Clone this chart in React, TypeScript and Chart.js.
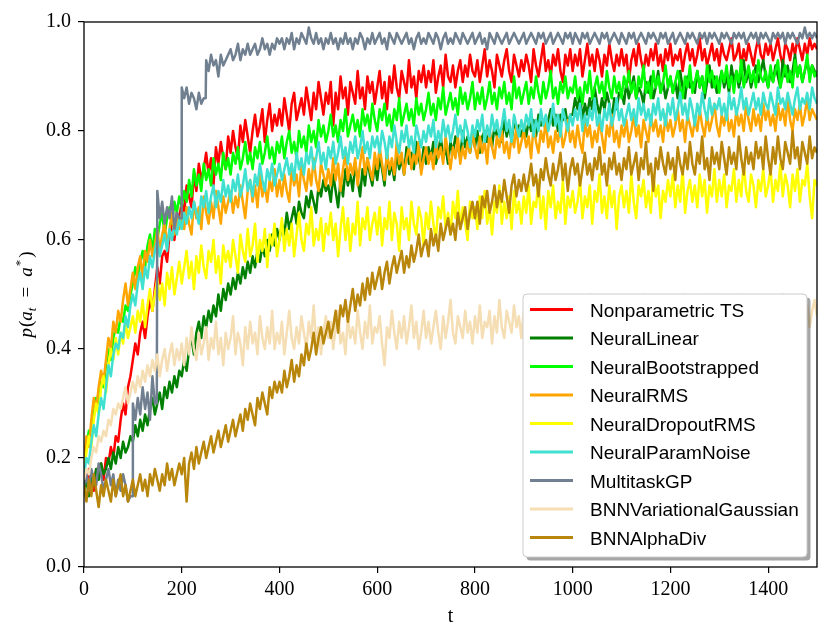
import React, { useEffect, useRef } from "react";
import { Chart, registerables } from "chart.js";

Chart.register(...registerables);

// ---------------- data ----------------
const SERIES_NAMES = [
  "Nonparametric TS",
  "NeuralLinear",
  "NeuralBootstrapped",
  "NeuralRMS",
  "NeuralDropoutRMS",
  "NeuralParamNoise",
  "MultitaskGP",
  "BNNVariationalGaussian",
  "BNNAlphaDiv",
];
const SERIES_COLORS = [
  "#ff0000",
  "#008000",
  "#00ff00",
  "#ffa500",
  "#ffff00",
  "#40e0d0",
  "#708090",
  "#f5deb3",
  "#b8860b",
];

const X_TICKS = [0, 200, 400, 600, 800, 1000, 1200, 1400];
const Y_TICKS = [0, 0.2, 0.4, 0.6, 0.8, 1.0];
const X_MIN = 0;
const X_MAX = 1500;
const X_TITLE = "t";

// time grid t = 0, 5, ..., 1500
const T = Array.from({ length: 301 }, (_, i) => i * 5);

const NONPARAM_TS = [
  0.17, 0.15, 0.18, 0.16, 0.14, 0.18, 0.17, 0.19, 0.16, 0.20, 0.19, 0.22, 0.20, 0.24, 0.23, 0.27, 0.30, 0.28, 0.33, 0.35,
  0.38, 0.41, 0.39, 0.43, 0.45, 0.42, 0.46, 0.49, 0.47, 0.51, 0.55, 0.52, 0.57, 0.58, 0.56, 0.61, 0.63, 0.60, 0.65, 0.64,
  0.67, 0.65, 0.70, 0.68, 0.66, 0.72, 0.69, 0.74, 0.71, 0.73, 0.76, 0.72, 0.75, 0.70, 0.77, 0.74, 0.78, 0.75, 0.73, 0.79,
  0.76, 0.80, 0.77, 0.75, 0.81, 0.78, 0.82, 0.79, 0.76, 0.80, 0.83, 0.79, 0.81, 0.84, 0.78, 0.82, 0.85, 0.80, 0.83, 0.81,
  0.84, 0.81, 0.86, 0.83, 0.80, 0.85, 0.87, 0.82, 0.84, 0.86, 0.83, 0.88, 0.85, 0.82, 0.87, 0.84, 0.89, 0.86, 0.83, 0.87,
  0.85, 0.89, 0.81, 0.87, 0.84, 0.90, 0.86, 0.88, 0.83, 0.89, 0.87, 0.85, 0.91, 0.86, 0.88, 0.84, 0.90, 0.87, 0.89, 0.85,
  0.88, 0.91, 0.86, 0.89, 0.84, 0.90, 0.87, 0.92, 0.88, 0.86, 0.91, 0.89, 0.87, 0.93, 0.88, 0.90, 0.86, 0.91, 0.89, 0.92,
  0.88, 0.91, 0.89, 0.93, 0.87, 0.90, 0.92, 0.88, 0.94, 0.90, 0.89, 0.92, 0.88, 0.91, 0.93, 0.89, 0.92, 0.90, 0.94, 0.91,
  0.90, 0.93, 0.89, 0.92, 0.95, 0.90, 0.93, 0.91, 0.88, 0.94, 0.92, 0.90, 0.93, 0.95, 0.91, 0.89, 0.94, 0.92, 0.90, 0.93,
  0.91, 0.94, 0.92, 0.89, 0.95, 0.92, 0.90, 0.93, 0.96, 0.91, 0.93, 0.90, 0.94, 0.92, 0.95, 0.91, 0.89, 0.94, 0.92, 0.95,
  0.91, 0.94, 0.92, 0.95, 0.90, 0.93, 0.96, 0.92, 0.94, 0.91, 0.95, 0.93, 0.90, 0.94, 0.92, 0.96, 0.93, 0.91, 0.94, 0.92,
  0.95, 0.92, 0.94, 0.89, 0.93, 0.95, 0.92, 0.96, 0.93, 0.91, 0.94, 0.92, 0.95, 0.93, 0.96, 0.92, 0.94, 0.91, 0.95, 0.93,
  0.96, 0.92, 0.94, 0.93, 0.95, 0.91, 0.94, 0.96, 0.93, 0.95, 0.92, 0.94, 0.97, 0.93, 0.95, 0.92, 0.94, 0.96, 0.93, 0.95,
  0.92, 0.96, 0.94, 0.93, 0.95, 0.97, 0.93, 0.94, 0.96, 0.92, 0.95, 0.93, 0.96, 0.94, 0.92, 0.95, 0.97, 0.94, 0.93, 0.96,
  0.94, 0.96, 0.93, 0.95, 0.97, 0.94, 0.92, 0.96, 0.95, 0.93, 0.96, 0.94, 0.97, 0.95, 0.93, 0.96, 0.94, 0.97, 0.95, 0.96,
  0.95,
];

const NEURAL_LINEAR = [
  0.14, 0.16, 0.13, 0.17, 0.15, 0.18, 0.16, 0.19, 0.17, 0.18, 0.20, 0.18, 0.21, 0.19, 0.22, 0.20, 0.23, 0.21, 0.22, 0.24,
  0.23, 0.26, 0.24, 0.27, 0.25, 0.28, 0.26, 0.29, 0.31, 0.28, 0.30, 0.32, 0.29, 0.33, 0.31, 0.34, 0.32, 0.35, 0.33, 0.36,
  0.35, 0.38, 0.36, 0.40, 0.42, 0.39, 0.43, 0.45, 0.42, 0.46, 0.44, 0.47, 0.45, 0.48, 0.46, 0.50, 0.47, 0.51, 0.49, 0.52,
  0.50, 0.53, 0.51, 0.54, 0.52, 0.55, 0.53, 0.56, 0.54, 0.57, 0.55, 0.58, 0.56, 0.59, 0.57, 0.60, 0.58, 0.61, 0.59, 0.62,
  0.60, 0.63, 0.61, 0.65, 0.62, 0.64, 0.66, 0.63, 0.67, 0.65, 0.64, 0.68, 0.66, 0.69, 0.67, 0.65, 0.70, 0.68, 0.71, 0.69,
  0.70, 0.67, 0.72, 0.69, 0.66, 0.71, 0.68, 0.73, 0.70, 0.72, 0.69, 0.74, 0.71, 0.68, 0.73, 0.70, 0.75, 0.72, 0.70, 0.74,
  0.71, 0.75, 0.73, 0.70, 0.76, 0.72, 0.74, 0.71, 0.76, 0.73, 0.75, 0.72, 0.77, 0.74, 0.76, 0.73, 0.78, 0.75, 0.73, 0.77,
  0.74, 0.77, 0.75, 0.78, 0.74, 0.76, 0.79, 0.75, 0.77, 0.74, 0.78, 0.76, 0.79, 0.77, 0.75, 0.80, 0.77, 0.79, 0.76, 0.80,
  0.77, 0.80, 0.76, 0.79, 0.80, 0.78, 0.80, 0.77, 0.81, 0.79, 0.80, 0.78, 0.82, 0.79, 0.81, 0.78, 0.82, 0.80, 0.81, 0.79,
  0.81, 0.79, 0.82, 0.80, 0.82, 0.79, 0.83, 0.81, 0.82, 0.80, 0.82, 0.84, 0.81, 0.83, 0.80, 0.83, 0.82, 0.84, 0.81, 0.83,
  0.83, 0.86, 0.84, 0.87, 0.82, 0.85, 0.83, 0.86, 0.84, 0.88, 0.85, 0.83, 0.86, 0.84, 0.87, 0.85, 0.82, 0.86, 0.84, 0.87,
  0.87, 0.85, 0.89, 0.86, 0.88, 0.90, 0.86, 0.88, 0.87, 0.85, 0.89, 0.87, 0.90, 0.86, 0.88, 0.91, 0.87, 0.89, 0.86, 0.88,
  0.90, 0.87, 0.89, 0.86, 0.91, 0.88, 0.86, 0.90, 0.88, 0.89, 0.87, 0.91, 0.88, 0.90, 0.86, 0.89, 0.92, 0.88, 0.90, 0.87,
  0.89, 0.91, 0.88, 0.90, 0.87, 0.92, 0.89, 0.91, 0.88, 0.90, 0.93, 0.89, 0.91, 0.88, 0.90, 0.92, 0.89, 0.91, 0.93, 0.90,
  0.88, 0.91, 0.89, 0.92, 0.90, 0.88, 0.93, 0.90, 0.92, 0.89, 0.91, 0.94, 0.90, 0.92, 0.89, 0.91, 0.93, 0.90, 0.92, 0.91,
  0.90,
];

const NEURAL_BOOTSTRAPPED = [
  0.19, 0.22, 0.25, 0.24, 0.28, 0.31, 0.30, 0.34, 0.33, 0.37, 0.40, 0.38, 0.42, 0.44, 0.43, 0.46, 0.45, 0.48, 0.47, 0.50,
  0.52, 0.55, 0.53, 0.56, 0.58, 0.55, 0.59, 0.61, 0.58, 0.62, 0.60, 0.63, 0.65, 0.61, 0.64, 0.66, 0.63, 0.67, 0.65, 0.68,
  0.66, 0.69, 0.67, 0.71, 0.68, 0.73, 0.70, 0.72, 0.69, 0.74, 0.71, 0.73, 0.70, 0.75, 0.72, 0.74, 0.71, 0.76, 0.73, 0.75,
  0.72, 0.76, 0.74, 0.77, 0.73, 0.75, 0.78, 0.74, 0.76, 0.73, 0.77, 0.75, 0.78, 0.74, 0.76, 0.79, 0.75, 0.77, 0.74, 0.78,
  0.76, 0.79, 0.75, 0.78, 0.80, 0.76, 0.78, 0.75, 0.80, 0.77, 0.79, 0.76, 0.81, 0.78, 0.80, 0.77, 0.82, 0.79, 0.81, 0.78,
  0.80, 0.83, 0.79, 0.81, 0.78, 0.82, 0.80, 0.84, 0.79, 0.81, 0.83, 0.80, 0.82, 0.79, 0.84, 0.81, 0.83, 0.80, 0.85, 0.82,
  0.80, 0.84, 0.82, 0.85, 0.81, 0.83, 0.80, 0.84, 0.82, 0.86, 0.81, 0.83, 0.85, 0.82, 0.84, 0.81, 0.86, 0.83, 0.85, 0.82,
  0.84, 0.87, 0.83, 0.85, 0.82, 0.86, 0.84, 0.88, 0.83, 0.85, 0.87, 0.84, 0.86, 0.83, 0.88, 0.85, 0.87, 0.84, 0.86, 0.89,
  0.84, 0.87, 0.85, 0.88, 0.84, 0.86, 0.89, 0.85, 0.87, 0.84, 0.88, 0.86, 0.89, 0.85, 0.87, 0.84, 0.90, 0.86, 0.88, 0.85,
  0.87, 0.89, 0.85, 0.88, 0.86, 0.90, 0.87, 0.85, 0.89, 0.86, 0.88, 0.91, 0.86, 0.88, 0.85, 0.89, 0.87, 0.90, 0.86, 0.88,
  0.87, 0.90, 0.86, 0.88, 0.85, 0.89, 0.87, 0.91, 0.86, 0.88, 0.90, 0.87, 0.89, 0.86, 0.91, 0.88, 0.86, 0.90, 0.87, 0.89,
  0.86, 0.90, 0.88, 0.91, 0.87, 0.89, 0.86, 0.90, 0.88, 0.92, 0.87, 0.89, 0.86, 0.91, 0.88, 0.90, 0.87, 0.89, 0.92, 0.88,
  0.90, 0.87, 0.89, 0.91, 0.88, 0.86, 0.90, 0.88, 0.92, 0.87, 0.89, 0.91, 0.88, 0.90, 0.87, 0.92, 0.89, 0.91, 0.88, 0.90,
  0.87, 0.91, 0.89, 0.92, 0.88, 0.90, 0.87, 0.91, 0.89, 0.93, 0.88, 0.90, 0.92, 0.89, 0.91, 0.88, 0.93, 0.90, 0.89, 0.91,
  0.88, 0.92, 0.89, 0.91, 0.93, 0.88, 0.90, 0.92, 0.89, 0.91, 0.88, 0.93, 0.90, 0.92, 0.89, 0.91, 0.94, 0.89, 0.92, 0.90,
  0.91,
];

const NEURAL_RMS = [
  0.20, 0.24, 0.22, 0.27, 0.31, 0.29, 0.33, 0.36, 0.34, 0.38, 0.42, 0.40, 0.45, 0.43, 0.47, 0.45, 0.49, 0.52, 0.48, 0.51,
  0.54, 0.51, 0.55, 0.57, 0.53, 0.58, 0.56, 0.60, 0.57, 0.59, 0.62, 0.58, 0.61, 0.63, 0.59, 0.62, 0.65, 0.61, 0.64, 0.62,
  0.65, 0.62, 0.66, 0.63, 0.61, 0.67, 0.64, 0.66, 0.62, 0.68, 0.65, 0.63, 0.67, 0.64, 0.69, 0.66, 0.63, 0.68, 0.65, 0.67,
  0.69, 0.65, 0.68, 0.66, 0.70, 0.67, 0.64, 0.69, 0.71, 0.67, 0.70, 0.66, 0.72, 0.68, 0.70, 0.67, 0.71, 0.69, 0.73, 0.68,
  0.71, 0.68, 0.72, 0.69, 0.67, 0.73, 0.70, 0.72, 0.68, 0.74, 0.71, 0.69, 0.73, 0.70, 0.75, 0.71, 0.69, 0.74, 0.72, 0.70,
  0.73, 0.70, 0.75, 0.71, 0.74, 0.69, 0.73, 0.76, 0.71, 0.74, 0.72, 0.75, 0.70, 0.74, 0.77, 0.72, 0.75, 0.73, 0.71, 0.76,
  0.73, 0.77, 0.74, 0.71, 0.76, 0.73, 0.75, 0.72, 0.78, 0.74, 0.76, 0.72, 0.75, 0.77, 0.73, 0.76, 0.74, 0.78, 0.72, 0.75,
  0.77, 0.74, 0.76, 0.73, 0.78, 0.75, 0.77, 0.74, 0.79, 0.76, 0.73, 0.77, 0.75, 0.79, 0.74, 0.77, 0.75, 0.78, 0.76, 0.80,
  0.77, 0.75, 0.79, 0.76, 0.78, 0.74, 0.80, 0.77, 0.75, 0.79, 0.77, 0.80, 0.76, 0.78, 0.75, 0.79, 0.77, 0.81, 0.76, 0.78,
  0.80, 0.77, 0.79, 0.75, 0.81, 0.78, 0.76, 0.80, 0.78, 0.82, 0.77, 0.79, 0.76, 0.80, 0.78, 0.81, 0.77, 0.79, 0.82, 0.78,
  0.80, 0.77, 0.81, 0.78, 0.76, 0.82, 0.79, 0.81, 0.77, 0.80, 0.78, 0.82, 0.79, 0.76, 0.81, 0.79, 0.83, 0.78, 0.80, 0.77,
  0.81, 0.79, 0.82, 0.78, 0.80, 0.83, 0.79, 0.81, 0.77, 0.82, 0.80, 0.78, 0.83, 0.80, 0.82, 0.79, 0.81, 0.78, 0.83, 0.80,
  0.82, 0.79, 0.81, 0.84, 0.80, 0.82, 0.78, 0.83, 0.81, 0.79, 0.82, 0.80, 0.84, 0.81, 0.79, 0.83, 0.80, 0.82, 0.85, 0.81,
  0.79, 0.83, 0.81, 0.84, 0.80, 0.82, 0.79, 0.84, 0.81, 0.83, 0.80, 0.85, 0.82, 0.80, 0.84, 0.81, 0.83, 0.80, 0.85, 0.82,
  0.84, 0.81, 0.83, 0.80, 0.85, 0.82, 0.84, 0.81, 0.86, 0.82, 0.80, 0.84, 0.82, 0.85, 0.81, 0.83, 0.86, 0.82, 0.84, 0.83,
  0.82,
];

const NEURAL_DROPOUT_RMS = [
  0.18, 0.21, 0.24, 0.22, 0.27, 0.30, 0.28, 0.33, 0.35, 0.32, 0.37, 0.40, 0.38, 0.42, 0.39, 0.43, 0.41, 0.45, 0.42, 0.44,
  0.46, 0.43, 0.47, 0.45, 0.49, 0.44, 0.48, 0.51, 0.47, 0.50, 0.53, 0.49, 0.52, 0.48, 0.54, 0.51, 0.55, 0.50, 0.53, 0.56,
  0.52, 0.55, 0.58, 0.53, 0.56, 0.51, 0.57, 0.54, 0.59, 0.55, 0.53, 0.58, 0.56, 0.60, 0.54, 0.57, 0.52, 0.59, 0.56, 0.58,
  0.55, 0.60, 0.57, 0.54, 0.61, 0.58, 0.56, 0.62, 0.57, 0.59, 0.63, 0.56, 0.60, 0.58, 0.62, 0.55, 0.61, 0.59, 0.63, 0.57,
  0.60, 0.64, 0.58, 0.62, 0.59, 0.63, 0.57, 0.61, 0.65, 0.60, 0.58, 0.63, 0.61, 0.66, 0.59, 0.62, 0.60, 0.64, 0.58, 0.63,
  0.61, 0.65, 0.60, 0.63, 0.57, 0.62, 0.66, 0.60, 0.64, 0.58, 0.63, 0.61, 0.67, 0.59, 0.64, 0.62, 0.66, 0.60, 0.63, 0.65,
  0.61, 0.66, 0.59, 0.64, 0.62, 0.67, 0.60, 0.65, 0.63, 0.58, 0.66, 0.62, 0.64, 0.60, 0.67, 0.63, 0.61, 0.66, 0.64, 0.59,
  0.65, 0.62, 0.67, 0.63, 0.60, 0.66, 0.64, 0.68, 0.62, 0.65, 0.61, 0.67, 0.64, 0.69, 0.62, 0.66, 0.63, 0.60, 0.67, 0.64,
  0.66, 0.62, 0.68, 0.64, 0.69, 0.63, 0.66, 0.61, 0.67, 0.65, 0.70, 0.63, 0.67, 0.64, 0.68, 0.62, 0.69, 0.65, 0.67, 0.63,
  0.68, 0.65, 0.70, 0.63, 0.67, 0.66, 0.71, 0.64, 0.68, 0.62, 0.69, 0.66, 0.70, 0.64, 0.67, 0.65, 0.71, 0.63, 0.68, 0.66,
  0.69, 0.65, 0.67, 0.71, 0.64, 0.68, 0.66, 0.70, 0.63, 0.69, 0.67, 0.72, 0.65, 0.68, 0.64, 0.70, 0.66, 0.69, 0.62, 0.68,
  0.70, 0.66, 0.69, 0.65, 0.72, 0.67, 0.64, 0.70, 0.68, 0.71, 0.66, 0.69, 0.65, 0.72, 0.68, 0.70, 0.64, 0.69, 0.67, 0.71,
  0.68, 0.72, 0.66, 0.70, 0.67, 0.73, 0.65, 0.69, 0.71, 0.67, 0.70, 0.66, 0.72, 0.68, 0.71, 0.65, 0.70, 0.68, 0.73, 0.67,
  0.71, 0.68, 0.72, 0.66, 0.70, 0.69, 0.73, 0.67, 0.71, 0.68, 0.74, 0.69, 0.67, 0.72, 0.70, 0.66, 0.71, 0.69, 0.73, 0.68,
  0.70, 0.73, 0.67, 0.71, 0.69, 0.74, 0.68, 0.72, 0.70, 0.66, 0.72, 0.69, 0.73, 0.67, 0.71, 0.70, 0.74, 0.68, 0.64, 0.71,
  0.70,
];

const NEURAL_PARAM_NOISE = [
  0.17, 0.20, 0.19, 0.23, 0.26, 0.24, 0.28, 0.31, 0.29, 0.33, 0.37, 0.35, 0.39, 0.41, 0.40, 0.43, 0.42, 0.46, 0.44, 0.48,
  0.50, 0.48, 0.52, 0.54, 0.51, 0.55, 0.53, 0.57, 0.55, 0.58, 0.60, 0.57, 0.59, 0.61, 0.58, 0.62, 0.60, 0.63, 0.61, 0.64,
  0.62, 0.65, 0.63, 0.66, 0.64, 0.67, 0.65, 0.63, 0.68, 0.66, 0.69, 0.65, 0.68, 0.70, 0.66, 0.69, 0.67, 0.71, 0.68, 0.70,
  0.67, 0.71, 0.69, 0.72, 0.68, 0.70, 0.73, 0.69, 0.71, 0.68, 0.72, 0.70, 0.74, 0.71, 0.69, 0.73, 0.71, 0.74, 0.70, 0.72,
  0.74, 0.71, 0.73, 0.75, 0.72, 0.74, 0.71, 0.76, 0.73, 0.75, 0.72, 0.76, 0.74, 0.77, 0.73, 0.75, 0.78, 0.74, 0.76, 0.73,
  0.77, 0.75, 0.78, 0.74, 0.76, 0.79, 0.75, 0.77, 0.74, 0.78, 0.76, 0.79, 0.75, 0.77, 0.80, 0.76, 0.78, 0.75, 0.79, 0.77,
  0.79, 0.76, 0.80, 0.78, 0.75, 0.79, 0.77, 0.81, 0.78, 0.76, 0.80, 0.78, 0.81, 0.77, 0.79, 0.76, 0.81, 0.79, 0.77, 0.80,
  0.78, 0.81, 0.79, 0.82, 0.77, 0.80, 0.78, 0.82, 0.79, 0.81, 0.78, 0.80, 0.83, 0.79, 0.81, 0.78, 0.82, 0.80, 0.77, 0.81,
  0.79, 0.82, 0.80, 0.83, 0.78, 0.81, 0.79, 0.83, 0.80, 0.82, 0.79, 0.81, 0.84, 0.80, 0.82, 0.78, 0.83, 0.81, 0.79, 0.82,
  0.80, 0.83, 0.81, 0.84, 0.79, 0.82, 0.80, 0.84, 0.81, 0.83, 0.80, 0.82, 0.85, 0.81, 0.83, 0.79, 0.84, 0.82, 0.80, 0.83,
  0.81, 0.84, 0.82, 0.85, 0.80, 0.83, 0.81, 0.84, 0.82, 0.86, 0.81, 0.83, 0.80, 0.84, 0.82, 0.85, 0.81, 0.83, 0.86, 0.82,
  0.84, 0.81, 0.83, 0.85, 0.82, 0.84, 0.81, 0.86, 0.83, 0.85, 0.82, 0.84, 0.81, 0.85, 0.83, 0.86, 0.82, 0.84, 0.81, 0.85,
  0.83, 0.86, 0.82, 0.84, 0.87, 0.83, 0.85, 0.82, 0.86, 0.84, 0.81, 0.85, 0.83, 0.87, 0.84, 0.82, 0.86, 0.83, 0.85, 0.84,
  0.86, 0.83, 0.85, 0.82, 0.87, 0.84, 0.86, 0.83, 0.85, 0.88, 0.84, 0.86, 0.83, 0.85, 0.87, 0.84, 0.86, 0.83, 0.87, 0.85,
  0.84, 0.87, 0.85, 0.83, 0.88, 0.85, 0.86, 0.84, 0.87, 0.85, 0.83, 0.86, 0.88, 0.84, 0.86, 0.85, 0.87, 0.84, 0.88, 0.86,
  0.85,
];

const MULTITASK_GP = [
  0.15, 0.17, 0.14, 0.18, 0.16, 0.15, 0.19, 0.17, 0.14, 0.16, 0.18, 0.15, 0.17, 0.13, 0.16, 0.14, 0.17, 0.15, 0.12, 0.13,
  0.30, 0.27, 0.31, 0.28, 0.33, 0.29, 0.32, 0.27, 0.35, 0.30, 0.69, 0.64, 0.67, 0.63, 0.66, 0.64, 0.68, 0.62, 0.65, 0.64,
  0.88, 0.86, 0.88, 0.85, 0.87, 0.86, 0.84, 0.87, 0.85, 0.86, 0.93, 0.91, 0.94, 0.92, 0.93, 0.90, 0.94, 0.92, 0.93, 0.94,
  0.95, 0.93, 0.94, 0.96, 0.93, 0.95, 0.94, 0.96, 0.94, 0.95, 0.96, 0.94, 0.95, 0.97, 0.95, 0.96, 0.94, 0.96, 0.95, 0.97,
  0.96, 0.97, 0.95, 0.97, 0.96, 0.98, 0.95, 0.97, 0.96, 0.98, 0.97, 0.96, 0.99, 0.97, 0.96, 0.98, 0.96, 0.97, 0.95, 0.97,
  0.96, 0.98, 0.96, 0.97, 0.95, 0.97, 0.96, 0.98, 0.96, 0.97, 0.95, 0.97, 0.96, 0.98, 0.97, 0.95, 0.97, 0.96, 0.98, 0.96,
  0.97, 0.98, 0.96, 0.97, 0.95, 0.98, 0.97, 0.96, 0.98, 0.97, 0.96, 0.97, 0.98, 0.96, 0.97, 0.95, 0.97, 0.98, 0.96, 0.97,
  0.96, 0.98, 0.97, 0.96, 0.98, 0.97, 0.95, 0.97, 0.98, 0.96, 0.97, 0.96, 0.98, 0.97, 0.96, 0.98, 0.97, 0.96, 0.97, 0.98,
  0.96, 0.97, 0.98, 0.96, 0.97, 0.95, 0.98, 0.97, 0.96, 0.98, 0.97, 0.96, 0.97, 0.98, 0.96, 0.97, 0.98, 0.97, 0.96, 0.97,
  0.98, 0.96, 0.97, 0.98, 0.97, 0.96, 0.98, 0.97, 0.98, 0.96, 0.97, 0.98, 0.96, 0.97, 0.98, 0.97, 0.96, 0.98, 0.97, 0.98,
  0.96, 0.98, 0.97, 0.96, 0.98, 0.97, 0.98, 0.96, 0.97, 0.98, 0.97, 0.96, 0.98, 0.97, 0.98, 0.96, 0.97, 0.98, 0.97, 0.96,
  0.98, 0.97, 0.96, 0.98, 0.97, 0.98, 0.96, 0.97, 0.98, 0.97, 0.96, 0.98, 0.97, 0.98, 0.97, 0.96, 0.98, 0.97, 0.98, 0.96,
  0.97, 0.98, 0.96, 0.97, 0.98, 0.97, 0.96, 0.98, 0.97, 0.98, 0.97, 0.96, 0.98, 0.97, 0.98, 0.96, 0.98, 0.97, 0.98, 0.97,
  0.96, 0.98, 0.97, 0.98, 0.97, 0.96, 0.98, 0.97, 0.98, 0.97, 0.98, 0.96, 0.97, 0.98, 0.97, 0.98, 0.96, 0.98, 0.97, 0.98,
  0.97, 0.96, 0.98, 0.97, 0.98, 0.97, 0.98, 0.96, 0.98, 0.97, 0.98, 0.97, 0.96, 0.98, 0.97, 0.99, 0.97, 0.98, 0.97, 0.98,
  0.97,
];
// extra MultitaskGP samples just before its step changes
const GP_STEP_T = [99, 149, 199, 249];
const GP_STEP_P = [0.13, 0.30, 0.64, 0.86];

const BNN_VAR_GAUSSIAN = [
  0.16, 0.18, 0.17, 0.20, 0.22, 0.21, 0.24, 0.23, 0.25, 0.24, 0.27, 0.26, 0.29, 0.28, 0.30, 0.29, 0.31, 0.33, 0.30, 0.32,
  0.34, 0.32, 0.35, 0.33, 0.36, 0.34, 0.37, 0.35, 0.38, 0.36, 0.39, 0.35, 0.38, 0.40, 0.36, 0.39, 0.41, 0.37, 0.40, 0.38,
  0.41, 0.37, 0.42, 0.39, 0.44, 0.40, 0.38, 0.43, 0.39, 0.41, 0.44, 0.38, 0.42, 0.40, 0.45, 0.39, 0.42, 0.37, 0.43, 0.40,
  0.42, 0.46, 0.39, 0.43, 0.41, 0.37, 0.44, 0.40, 0.45, 0.41, 0.43, 0.39, 0.46, 0.42, 0.40, 0.44, 0.41, 0.47, 0.40, 0.43,
  0.41, 0.45, 0.39, 0.43, 0.47, 0.42, 0.40, 0.44, 0.41, 0.46, 0.43, 0.40, 0.45, 0.42, 0.48, 0.41, 0.44, 0.39, 0.43, 0.46,
  0.42, 0.45, 0.40, 0.44, 0.47, 0.41, 0.43, 0.39, 0.46, 0.42, 0.44, 0.41, 0.47, 0.43, 0.40, 0.45, 0.42, 0.48, 0.41, 0.44,
  0.43, 0.46, 0.41, 0.37, 0.44, 0.42, 0.47, 0.43, 0.40, 0.45, 0.42, 0.46, 0.41, 0.44, 0.48, 0.42, 0.45, 0.40, 0.43, 0.47,
  0.42, 0.45, 0.41, 0.44, 0.47, 0.43, 0.40, 0.46, 0.42, 0.45, 0.49, 0.43, 0.41, 0.46, 0.44, 0.42, 0.47, 0.43, 0.45, 0.41,
  0.46, 0.43, 0.48, 0.42, 0.45, 0.44, 0.47, 0.41, 0.46, 0.43, 0.49, 0.44, 0.42, 0.47, 0.45, 0.43, 0.48, 0.44, 0.46, 0.42,
  0.47, 0.44, 0.46, 0.49, 0.43, 0.45, 0.48, 0.44, 0.42, 0.47, 0.45, 0.49, 0.43, 0.46, 0.44, 0.48, 0.45, 0.42, 0.47, 0.44,
  0.46, 0.49, 0.44, 0.47, 0.43, 0.48, 0.45, 0.50, 0.44, 0.46, 0.43, 0.47, 0.45, 0.49, 0.44, 0.46, 0.48, 0.43, 0.47, 0.45,
  0.48, 0.44, 0.47, 0.45, 0.49, 0.43, 0.46, 0.48, 0.45, 0.50, 0.44, 0.47, 0.45, 0.48, 0.43, 0.47, 0.49, 0.45, 0.46, 0.44,
  0.47, 0.45, 0.49, 0.44, 0.47, 0.46, 0.50, 0.45, 0.48, 0.43, 0.47, 0.45, 0.49, 0.46, 0.44, 0.48, 0.46, 0.50, 0.45, 0.47,
  0.44, 0.48, 0.46, 0.49, 0.45, 0.47, 0.43, 0.48, 0.46, 0.50, 0.45, 0.47, 0.49, 0.44, 0.48, 0.46, 0.43, 0.49, 0.46, 0.48,
  0.45, 0.49, 0.46, 0.48, 0.44, 0.47, 0.50, 0.45, 0.48, 0.46, 0.49, 0.44, 0.47, 0.45, 0.50, 0.46, 0.48, 0.44, 0.47, 0.49,
  0.46,
];

const BNN_ALPHA_DIV = [
  0.15, 0.12, 0.16, 0.13, 0.17, 0.14, 0.11, 0.15, 0.13, 0.16, 0.14, 0.12, 0.16, 0.13, 0.15, 0.17, 0.13, 0.15, 0.12, 0.14,
  0.16, 0.13, 0.15, 0.17, 0.14, 0.16, 0.13, 0.17, 0.15, 0.18, 0.16, 0.14, 0.17, 0.15, 0.19, 0.16, 0.18, 0.15, 0.17, 0.19,
  0.17, 0.20, 0.12, 0.19, 0.21, 0.18, 0.22, 0.19, 0.21, 0.23, 0.20, 0.22, 0.24, 0.21, 0.23, 0.25, 0.22, 0.24, 0.26, 0.23,
  0.25, 0.27, 0.24, 0.26, 0.28, 0.25, 0.29, 0.27, 0.30, 0.28, 0.26, 0.31, 0.29, 0.32, 0.30, 0.28, 0.33, 0.31, 0.34, 0.32,
  0.34, 0.32, 0.36, 0.33, 0.35, 0.38, 0.34, 0.37, 0.35, 0.39, 0.37, 0.41, 0.38, 0.40, 0.43, 0.39, 0.42, 0.44, 0.41, 0.43,
  0.45, 0.42, 0.44, 0.47, 0.43, 0.48, 0.46, 0.49, 0.45, 0.48, 0.51, 0.47, 0.50, 0.48, 0.52, 0.49, 0.53, 0.50, 0.54, 0.51,
  0.53, 0.55, 0.51, 0.54, 0.56, 0.52, 0.55, 0.57, 0.54, 0.56, 0.58, 0.54, 0.57, 0.55, 0.59, 0.56, 0.58, 0.61, 0.57, 0.59,
  0.60, 0.57, 0.62, 0.59, 0.61, 0.58, 0.63, 0.60, 0.62, 0.64, 0.61, 0.63, 0.60, 0.65, 0.62, 0.64, 0.66, 0.62, 0.65, 0.67,
  0.64, 0.67, 0.63, 0.68, 0.66, 0.69, 0.65, 0.67, 0.70, 0.66, 0.69, 0.67, 0.71, 0.68, 0.65, 0.70, 0.72, 0.68, 0.71, 0.69,
  0.72, 0.69, 0.71, 0.74, 0.70, 0.72, 0.68, 0.73, 0.71, 0.75, 0.72, 0.70, 0.74, 0.71, 0.73, 0.76, 0.71, 0.74, 0.69, 0.73,
  0.75, 0.72, 0.74, 0.70, 0.73, 0.76, 0.72, 0.74, 0.71, 0.75, 0.73, 0.77, 0.72, 0.74, 0.70, 0.75, 0.73, 0.76, 0.72, 0.74,
  0.71, 0.75, 0.73, 0.77, 0.72, 0.74, 0.76, 0.71, 0.75, 0.73, 0.78, 0.72, 0.74, 0.69, 0.75, 0.73, 0.77, 0.74, 0.72, 0.76,
  0.73, 0.75, 0.71, 0.77, 0.74, 0.72, 0.76, 0.73, 0.78, 0.74, 0.72, 0.76, 0.74, 0.79, 0.73, 0.75, 0.71, 0.77, 0.74, 0.76,
  0.73, 0.78, 0.75, 0.72, 0.77, 0.74, 0.76, 0.73, 0.79, 0.75, 0.72, 0.77, 0.74, 0.76, 0.73, 0.78, 0.75, 0.77, 0.73, 0.79,
  0.75, 0.72, 0.77, 0.74, 0.79, 0.75, 0.73, 0.78, 0.76, 0.74, 0.80, 0.75, 0.77, 0.73, 0.78, 0.76, 0.74, 0.79, 0.75, 0.77,
  0.76,
];

const SERIES_VALUES = [
  NONPARAM_TS,
  NEURAL_LINEAR,
  NEURAL_BOOTSTRAPPED,
  NEURAL_RMS,
  NEURAL_DROPOUT_RMS,
  NEURAL_PARAM_NOISE,
  MULTITASK_GP,
  BNN_VAR_GAUSSIAN,
  BNN_ALPHA_DIV,
];

// ---------------- helpers ----------------
const SERIF = '"Liberation Serif", "DejaVu Serif", serif';
const SANS = '"Liberation Sans", "DejaVu Sans", sans-serif';

function buildPoints(idx: number) {
  const vals = SERIES_VALUES[idx];
  const pts: { x: number; y: number }[] = [];
  T.forEach((t, i) => {
    if (i < vals.length) pts.push({ x: t, y: vals[i] });
  });
  if (idx === 6) {
    GP_STEP_T.forEach((t, i) => pts.push({ x: t, y: GP_STEP_P[i] }));
    pts.sort((a, b) => a.x - b.x);
  }
  return pts;
}

function roundRect(ctx: CanvasRenderingContext2D, x: number, y: number, w: number, h: number, r: number) {
  ctx.beginPath();
  ctx.moveTo(x + r, y);
  ctx.lineTo(x + w - r, y);
  ctx.arcTo(x + w, y, x + w, y + r, r);
  ctx.lineTo(x + w, y + h - r);
  ctx.arcTo(x + w, y + h, x + w - r, y + h, r);
  ctx.lineTo(x + r, y + h);
  ctx.arcTo(x, y + h, x, y + h - r, r);
  ctx.lineTo(x, y + r);
  ctx.arcTo(x, y, x + r, y, r);
  ctx.closePath();
}

const framePlugin = {
  id: "mplFrame",
  afterDatasetsDraw(chart: any) {
    const { ctx, chartArea } = chart;
    ctx.save();
    ctx.strokeStyle = "#000";
    ctx.lineWidth = 1.3;
    ctx.strokeRect(chartArea.left, chartArea.top, chartArea.right - chartArea.left, chartArea.bottom - chartArea.top);
    ctx.restore();
  },
};

const labelsPlugin = {
  id: "mplLabels",
  afterDraw(chart: any) {
    const { ctx, chartArea } = chart;
    ctx.save();
    ctx.fillStyle = "#000";
    // x title
    ctx.font = `20px ${SERIF}`;
    ctx.textAlign = "center";
    ctx.textBaseline = "alphabetic";
    ctx.fillText(X_TITLE, (chartArea.left + chartArea.right) / 2, 622);

    // y title p(a_t = a*)
    const big = 19;
    const small = 13;
    const parts = [
      { t: "p", f: `italic ${big}px ${SERIF}`, dy: 0, gap: 0 },
      { t: "(", f: `${big}px ${SERIF}`, dy: 0, gap: 1 },
      { t: "a", f: `italic ${big}px ${SERIF}`, dy: 0, gap: 0 },
      { t: "t", f: `italic ${small}px ${SERIF}`, dy: 4, gap: 0 },
      { t: "=", f: `${big}px ${SERIF}`, dy: 0, gap: 10 },
      { t: "a", f: `italic ${big}px ${SERIF}`, dy: 0, gap: 10 },
      { t: "*", f: `${small}px ${SERIF}`, dy: -8, gap: 1 },
      { t: ")", f: `${big}px ${SERIF}`, dy: 0, gap: 2 },
    ];
    let total = 0;
    const widths = parts.map((p) => {
      ctx.font = p.f;
      const w = ctx.measureText(p.t).width;
      total += w + p.gap;
      return w;
    });
    ctx.translate(32, (chartArea.top + chartArea.bottom) / 2);
    ctx.rotate(-Math.PI / 2);
    ctx.textAlign = "left";
    let x = -total / 2;
    parts.forEach((p, i) => {
      if (i > 0) x += p.gap;
      ctx.font = p.f;
      ctx.fillText(p.t, x, p.dy);
      x += widths[i];
    });
    ctx.restore();

    // legend
    const lx = 523, ly = 294, lw = 284, lh = 263;
    ctx.save();
    ctx.fillStyle = "rgba(77,77,77,0.5)";
    roundRect(ctx, lx + 3.5, ly + 3.5, lw, lh, 4);
    ctx.fill();
    ctx.fillStyle = "#ffffff";
    roundRect(ctx, lx, ly, lw, lh, 4);
    ctx.fill();
    ctx.strokeStyle = "#cccccc";
    ctx.lineWidth = 1;
    ctx.stroke();
    ctx.font = `19px ${SANS}`;
    ctx.textAlign = "left";
    ctx.textBaseline = "alphabetic";
    SERIES_NAMES.forEach((name, i) => {
      const ry = 309.5 + 28.5 * i;
      ctx.strokeStyle = SERIES_COLORS[i];
      ctx.lineWidth = 3;
      ctx.beginPath();
      ctx.moveTo(530, ry);
      ctx.lineTo(573, ry);
      ctx.stroke();
      ctx.fillStyle = "#000";
      ctx.fillText(name, 590, ry + 7);
    });
    ctx.restore();
  },
};

export default function App() {
  const canvasRef = useRef<HTMLCanvasElement | null>(null);

  useEffect(() => {
    document.body.style.margin = "0";
    const canvas = canvasRef.current;
    if (!canvas) return;
    const datasets = SERIES_NAMES.map((name, i) => ({
      label: name,
      data: buildPoints(i),
      borderColor: SERIES_COLORS[i],
      backgroundColor: SERIES_COLORS[i],
      borderWidth: 2.5,
      pointRadius: 0,
      fill: false,
      tension: 0,
      borderJoinStyle: "round" as const,
      order: SERIES_NAMES.length - 1 - i,
    }));
    const chart = new Chart(canvas, {
      type: "line",
      data: { datasets },
      options: {
        animation: false,
        responsive: false,
        parsing: false as any,
        layout: { padding: { top: 22, right: 14, left: 0, bottom: 0 } },
        plugins: {
          legend: { display: false },
          tooltip: { enabled: false },
          title: { display: false },
        },
        scales: {
          x: {
            type: "linear",
            min: X_MIN,
            max: X_MAX,
            afterFit: (s: any) => {
              s.height = 74;
            },
            afterBuildTicks: (s: any) => {
              s.ticks = X_TICKS.map((v) => ({ value: v }));
            },
            grid: { drawOnChartArea: false, drawTicks: true, tickLength: 6, color: "#000", lineWidth: 1.2 },
            border: { display: false },
            ticks: {
              color: "#000",
              font: { family: SERIF, size: 20 },
              padding: 5,
              maxRotation: 0,
              autoSkip: false,
              callback: (v: any) => String(v),
            },
          },
          y: {
            type: "linear",
            min: 0,
            max: 1,
            afterFit: (s: any) => {
              s.width = 84;
            },
            afterBuildTicks: (s: any) => {
              s.ticks = Y_TICKS.map((v) => ({ value: v }));
            },
            grid: { drawOnChartArea: false, drawTicks: true, tickLength: 6, color: "#000", lineWidth: 1.2 },
            border: { display: false },
            ticks: {
              color: "#000",
              font: { family: SERIF, size: 20 },
              padding: 7,
              autoSkip: false,
              callback: (v: any) => Number(v).toFixed(1),
            },
          },
        },
      },
      plugins: [framePlugin, labelsPlugin],
    });
    return () => chart.destroy();
  }, []);

  return (
    <div style={{ width: 831, height: 641, background: "#fff" }}>
      <canvas ref={canvasRef} width={831} height={641} style={{ display: "block" }} />
    </div>
  );
}
